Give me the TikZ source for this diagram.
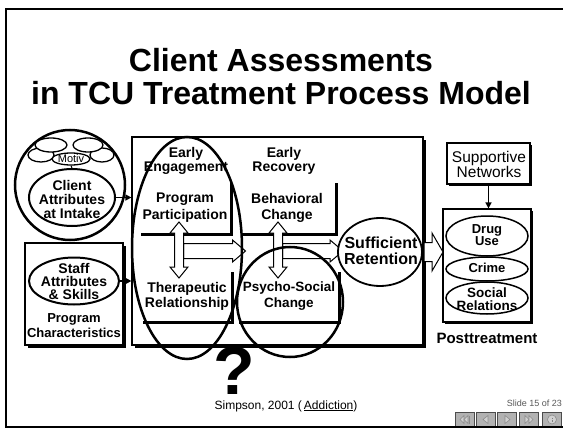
\documentclass[tikz,border=0pt]{standalone}
\usepackage{fontspec}
\setmainfont{Liberation Sans}
\usetikzlibrary{arrows.meta,shapes.geometric,shadows}

\begin{document}
\begin{tikzpicture}[x=1pt,y=-1pt,
  txt/.style 2 args={font=\fontsize{#1}{#2}\selectfont, align=center, inner sep=0pt},
  btxt/.style 2 args={font=\fontsize{#1}{#2}\selectfont\bfseries, align=center, inner sep=0pt},
  panel/.style={draw, line width=1.2pt, fill=white, inner sep=0pt,
    drop shadow={shadow xshift=#1, shadow yshift=-#1, opacity=1, fill=black}},
  stage/.style={draw=none, fill=white, inner sep=0pt,
    drop shadow={shadow xshift=3pt, shadow yshift=-3pt, opacity=1, fill=black}},
  oval/.style={ellipse, draw, inner sep=0pt},
  ring/.style={ellipse, draw, line width=2.5pt, inner sep=0pt},
  blockarrow/.style={draw, fill=white, line width=1pt, line join=miter},
  conn/.style={line width=1.5pt, -{Triangle[length=6pt,width=6pt]}},
  button/.style={draw=black!70, line width=0.6pt, fill=black!30, minimum width=19, minimum height=15, inner sep=0pt},
  icon/.style={draw=black!45, fill=black!18, line width=0.6pt}
]
\useasboundingbox (0,0) rectangle (563,428);
\fill[white] (0,0) rectangle (563,428);

% slide frame
\draw[line width=2pt] (600,9) -- (6,9) -- (6,427) -- (600,427);

% title
\node[btxt={32}{33}] (title1) at (281,60) {Client Assessments};
\node[btxt={32}{33}] (title2) at (281,93) {in TCU Treatment Process Model};

% framing boxes
\node[panel=3pt, minimum width=291, minimum height=208] (bigbox) at (277.5,241) {};
\node[panel=2.5pt, minimum width=98, minimum height=102] (staffbox) at (74,294) {};
\node[panel=2pt, minimum width=83, minimum height=41] (support) at (488.5,163.5) {};
\node[panel=2pt, minimum width=88, minimum height=113] (post) at (487,265.5) {};

% process stages
\node[stage, minimum width=92, minimum height=53] (pp) at (184,206.5) {};
\node[stage, minimum width=95, minimum height=53] (bc) at (287.5,206.5) {};
\node[stage, minimum width=91, minimum height=52] (tr) at (185.5,295) {};
\node[stage, minimum width=102, minimum height=52] (ps) at (287,295) {};

% stage texts
\node[btxt={14}{11}] (engT) at (186,161) {Early\\Engagement};
\node[btxt={14}{11}] (recT) at (284,161) {Early\\Recovery};
\node[btxt={14}{17}] (ppT) at (185,207.5) {Program\\Participation};
\node[btxt={14}{16}] (bcT) at (287,207.5) {Behavioral\\Change};
\node[btxt={14}{15}] (trT) at (187,296.5) {Therapeutic\\Relationship};
\node[btxt={13.5}{16}] (psT) at (289,296) {Psycho-Social\\Change};

% block arrows between stages
\coordinate (hA) at (183.5,251);
\draw[blockarrow] (hA) ++(0,-7.5) -- ++(49,0) -- ++(0,-3.5) -- ++(13,11) -- ++(-13,11) -- ++(0,-3.5) -- ++(-49,0) -- cycle;
\coordinate (hB) at (282.5,251);
\draw[blockarrow] (hB) ++(0,-7.5) -- ++(47.5,0) -- ++(0,-3.5) -- ++(13,11) -- ++(-13,11) -- ++(0,-3.5) -- ++(-47.5,0) -- cycle;
\coordinate (vA) at (179,222);
\draw[blockarrow] (vA) -- ++(9,11) -- ++(-4.5,0) -- ++(0,34) -- ++(4.5,0) -- ++(-9,11) -- ++(-9,-11) -- ++(4.5,0) -- ++(0,-34) -- ++(-4.5,0) -- cycle;
\coordinate (vB) at (278,222);
\draw[blockarrow] (vB) -- ++(9,11) -- ++(-4.5,0) -- ++(0,34) -- ++(4.5,0) -- ++(-9,11) -- ++(-9,-11) -- ++(4.5,0) -- ++(0,-34) -- ++(-4.5,0) -- cycle;
\coordinate (hC) at (424,252);
\draw[blockarrow] (hC) ++(0,-9.5) -- ++(8,0) -- ++(0,-9.5) -- ++(11,19) -- ++(-11,19) -- ++(0,-9.5) -- ++(-8,0) -- cycle;

% retention
\node[oval, line width=1.8pt, fill=white, minimum width=84, minimum height=68] (ret) at (380,252) {};
\node[btxt={16}{15.5}] (retT) at (381,251) {Sufficient\\Retention};

% highlighted stages
\node[ring, minimum width=110, minimum height=222] (engring) at (187,248) {};
\node[ring, minimum width=106, minimum height=110] (psring) at (290,302) {};

% client attributes
\node[circle, draw, line width=2.5pt, minimum size=110, inner sep=0pt] (clientring) at (70,185) {};
\node[oval, line width=1.3pt, fill=white, minimum width=26, minimum height=14] (m3) at (41,155) {};
\node[oval, line width=1.3pt, fill=white, minimum width=24, minimum height=14] (m4) at (102,155) {};
\node[oval, line width=1.3pt, fill=white, minimum width=32, minimum height=14] (m1) at (51,145) {};
\node[oval, line width=1.3pt, fill=white, minimum width=30, minimum height=14] (m2) at (88,145) {};
\node[oval, line width=1.3pt, fill=white, minimum width=38, minimum height=12] (motiv) at (71,159) {};
\node[txt={11}{11}] (motivT) at (71,159) {Motiv};
\node[oval, line width=2pt, fill=white, minimum width=86, minimum height=57] (clientE) at (72,197.5) {};
\node[btxt={14}{14}] (clientT) at (72,199) {Client\\Attributes\\at Intake};
\draw[line width=1pt] (motiv.south) -- (clientE.north);

% staff attributes
\node[oval, line width=2pt, fill=white, minimum width=90, minimum height=47] (staffE) at (74,281) {};
\node[btxt={14}{13}] (staffT) at (74,281) {Staff\\Attributes\\\& Skills};
\node[btxt={13}{15}] (progT) at (74,326) {Program\\Characteristics};

\draw[conn] (clientE.east) -- (clientE.east -| bigbox.west);
\draw[conn] (staffE.east) -- (staffE.east -| bigbox.west);

% posttreatment outcomes
\node[txt={15.5}{15}] (supT) at (489,164.5) {Supportive\\Networks};
\draw[conn] (support.south) -- (support.south |- post.north);
\node[oval, line width=1.5pt, fill=white, minimum width=82, minimum height=40] (drug) at (487,236) {};
\node[oval, line width=1.5pt, fill=white, minimum width=82, minimum height=32] (social) at (487,298) {};
\node[oval, line width=1.5pt, fill=white, minimum width=82, minimum height=24] (crime) at (487,269) {};
\node[btxt={13}{12.5}] (drugT) at (487,235) {Drug\\Use};
\node[btxt={13}{12}] (crimeT) at (487,268) {Crime};
\node[btxt={13.5}{12.5}] (socialT) at (487,299) {Social\\Relations};
\node[btxt={15}{16}] (postT) at (487,338) {Posttreatment};

% open question and source
\node[btxt={68}{70}] (quest) at (234,371) {?};
\node[txt={12}{13}] (cite) at (286,406) {Simpson, 2001 (\,\underline{Addiction})};

% slide navigation
\node[txt={9}{10}, text=black!65, anchor=east] (slideno) at (562,403) {Slide 15 of 23};
\node[button] (b1) at (465,419.5) {};
\node[button] (b2) at (486,419.5) {};
\node[button] (b3) at (507,419.5) {};
\node[button] (b4) at (529,419.5) {};
\node[button] (b5) at (552,419.5) {};
\begin{scope}[shift={(b1.center)}]
  \draw[icon] (-1,-4) -- (-1,4) -- (-5,0) -- cycle;
  \draw[icon] (3,-4) -- (3,4) -- (-1,0) -- cycle;
  \draw[draw=black!45, line width=0.6pt] (4.5,-4) -- (4.5,4);
\end{scope}
\begin{scope}[shift={(b2.center)}]
  \draw[icon] (2,-4) -- (2,4) -- (-3,0) -- cycle;
\end{scope}
\begin{scope}[shift={(b3.center)}]
  \draw[icon] (-2,-4) -- (-2,4) -- (3,0) -- cycle;
\end{scope}
\begin{scope}[shift={(b4.center)}]
  \draw[icon] (-4,-4) -- (-4,4) -- (0,0) -- cycle;
  \draw[icon] (0,-4) -- (0,4) -- (4,0) -- cycle;
\end{scope}
\begin{scope}[shift={(b5.center)}]
  \draw[icon] (0,0) circle (4.5);
  \draw[draw=black!50, line width=0.7pt] (0,-2) -- (0,-1.2) (0,0) -- (0,2.5);
\end{scope}
\draw[line width=2pt] (440,427) -- (600,427);
\end{tikzpicture}
\end{document}
